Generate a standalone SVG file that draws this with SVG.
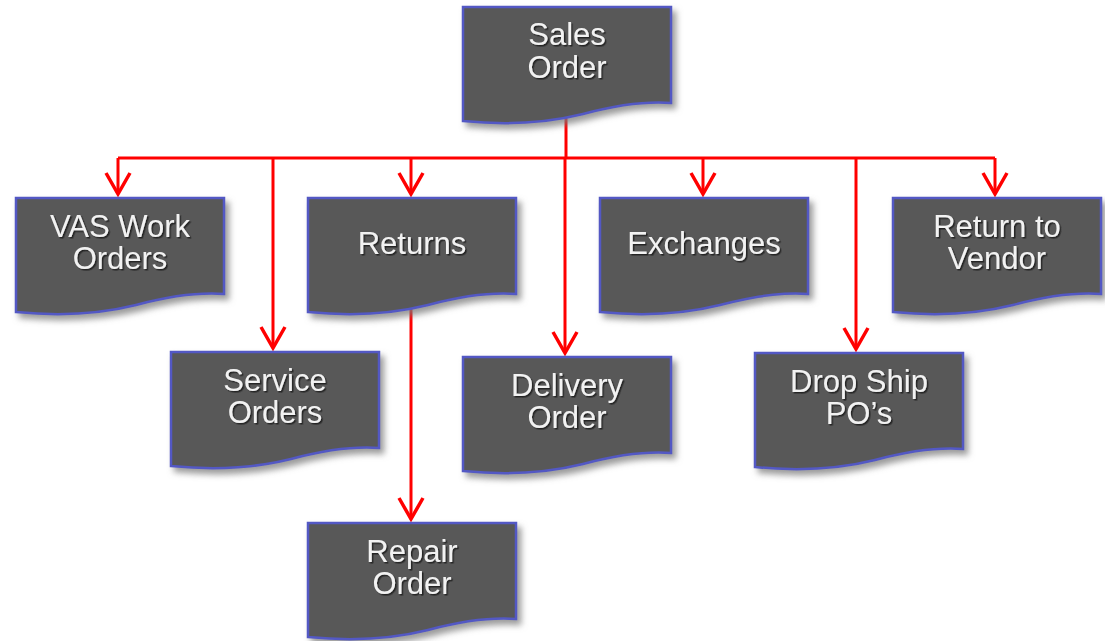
<svg xmlns="http://www.w3.org/2000/svg" width="1105" height="641" viewBox="0 0 1105 641">
  <defs>
    <!-- document shape: flat top, wavy bottom -->
    <path id="doc" d="M0,0 H208 V96 C180,94 150,99 120,107 C80,117 40,118 0,114 Z"/>
    <filter id="boxShadow" x="-10%" y="-10%" width="130%" height="140%">
      <feDropShadow dx="4" dy="5" stdDeviation="3" flood-color="#7a7a7a" flood-opacity="0.75"/>
    </filter>
    <filter id="textShadow" x="-10%" y="-20%" width="130%" height="150%">
      <feDropShadow dx="1.5" dy="1.5" stdDeviation="0.7" flood-color="#1a1a1a" flood-opacity="0.9"/>
    </filter>
    <marker id="arrow" viewBox="-26 -15 30 30" markerWidth="30" markerHeight="30" refX="0" refY="0" markerUnits="userSpaceOnUse" orient="auto" overflow="visible">
      <path d="M-21,-12 L0,0 L-21,12" fill="none" stroke="#ff0000" stroke-width="3.5"/>
    </marker>
  </defs>
  <style>
    .conn { fill: none; stroke: #ff0000; stroke-width: 3; }
    .box { fill: #595959; stroke: #5259c4; stroke-width: 2.5; filter: url(#boxShadow); }
    .label { font-family: "Liberation Sans", Arial, sans-serif; font-size: 31px; fill: #f2f2f2; text-anchor: middle; filter: url(#textShadow); }
  </style>
  <rect width="1105" height="641" fill="#ffffff"/>

  <g id="connectors">
    <path class="conn" d="M566,108 V158"/>
    <path class="conn" d="M118,158 H995"/>
    <path class="conn" d="M118,158 V194" marker-end="url(#arrow)"/>
    <path class="conn" d="M273,158 V348" marker-end="url(#arrow)"/>
    <path class="conn" d="M411,158 V194" marker-end="url(#arrow)"/>
    <path class="conn" d="M565,158 V353" marker-end="url(#arrow)"/>
    <path class="conn" d="M703,158 V194" marker-end="url(#arrow)"/>
    <path class="conn" d="M856,158 V349" marker-end="url(#arrow)"/>
    <path class="conn" d="M995,158 V194" marker-end="url(#arrow)"/>
    <path class="conn" d="M411,305 V519" marker-end="url(#arrow)"/>
  </g>

  <g id="sales-order" transform="translate(463,7)">
    <use href="#doc" class="box"/>
    <text class="label" x="104" y="38">Sales</text>
    <text class="label" x="104" y="71">Order</text>
  </g>
  <g id="vas-work-orders" transform="translate(16,198)">
    <use href="#doc" class="box"/>
    <text class="label" x="104" y="39">VAS Work</text>
    <text class="label" x="104" y="71">Orders</text>
  </g>
  <g id="returns" transform="translate(308,198)">
    <use href="#doc" class="box"/>
    <text class="label" x="104" y="56">Returns</text>
  </g>
  <g id="exchanges" transform="translate(600,198)">
    <use href="#doc" class="box"/>
    <text class="label" x="104" y="56">Exchanges</text>
  </g>
  <g id="return-to-vendor" transform="translate(893,198)">
    <use href="#doc" class="box"/>
    <text class="label" x="104" y="39">Return to</text>
    <text class="label" x="104" y="71">Vendor</text>
  </g>
  <g id="service-orders" transform="translate(171,352)">
    <use href="#doc" class="box"/>
    <text class="label" x="104" y="39">Service</text>
    <text class="label" x="104" y="71">Orders</text>
  </g>
  <g id="delivery-order" transform="translate(463,357)">
    <use href="#doc" class="box"/>
    <text class="label" x="104" y="39">Delivery</text>
    <text class="label" x="104" y="71">Order</text>
  </g>
  <g id="drop-ship-pos" transform="translate(755,353)">
    <use href="#doc" class="box"/>
    <text class="label" x="104" y="39">Drop Ship</text>
    <text class="label" x="104" y="71">PO’s</text>
  </g>
  <g id="repair-order" transform="translate(308,523)">
    <use href="#doc" class="box"/>
    <text class="label" x="104" y="39">Repair</text>
    <text class="label" x="104" y="71">Order</text>
  </g>
</svg>
